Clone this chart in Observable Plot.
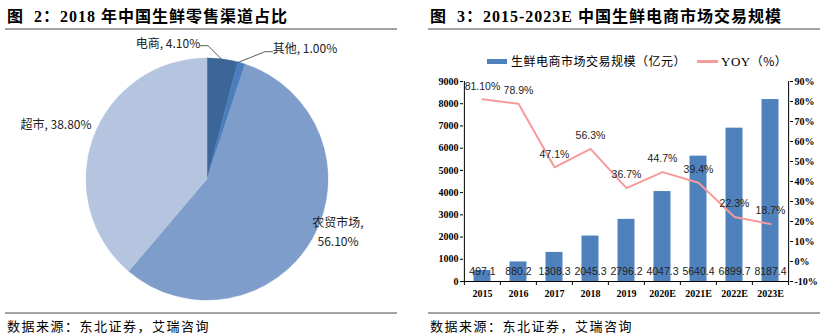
<!DOCTYPE html>
<html><head><meta charset="utf-8">
<script src="https://cdn.jsdelivr.net/npm/d3@7"></script>
<script src="https://cdn.jsdelivr.net/npm/@observablehq/plot@0.6"></script>
<style>
body{margin:0;background:#fff;}
#page{position:relative;width:823px;height:336px;overflow:hidden;background:#fff;}
.abs{position:absolute;white-space:nowrap;}
.title{font-family:"Liberation Serif","Noto Sans CJK SC",serif;font-weight:bold;font-size:16px;letter-spacing:1px;color:#000;line-height:20px;}
.foot{font-family:"Noto Sans CJK SC",sans-serif;font-size:13px;letter-spacing:1.5px;color:#000;line-height:16px;}
.rule{position:absolute;height:2px;background:#a3a3a3;}
.leg{font-family:"Noto Sans CJK SC",sans-serif;font-size:12px;letter-spacing:0.5px;color:#000;line-height:16px;}
</style></head>
<body><div id="page">
<div class="abs title" style="left:7px;top:7px;">图&nbsp;&nbsp;2：2018 年中国生鲜零售渠道占比</div>
<div class="rule" style="left:5px;top:28px;width:392px;"></div>
<div class="rule" style="left:5px;top:312px;width:392px;"></div>
<div class="abs foot" style="left:7px;top:318px;">数据来源：东北证券，艾瑞咨询</div>

<div class="abs title" style="left:430px;top:7px;">图&nbsp;&nbsp;3：2015-2023E 中国生鲜电商市场交易规模</div>
<div class="rule" style="left:428px;top:28px;width:392px;"></div>
<div class="rule" style="left:428px;top:312px;width:392px;"></div>
<div class="abs foot" style="left:430px;top:318px;">数据来源：东北证券，艾瑞咨询</div>

<div class="abs" style="left:487px;top:59px;width:20px;height:5px;background:#4f81bd;"></div>
<div class="abs leg" style="left:511px;top:53px;">生鲜电商市场交易规模（亿元）</div>
<div class="abs" style="left:697px;top:60px;width:21px;height:3px;background:#f79a9a;"></div>
<div class="abs leg" style="left:721px;top:53px;"><span style="font-family:'Liberation Serif',serif;font-size:13px;">YOY</span>（%）</div>

<div id="pie" class="abs" style="left:0;top:30px;"></div>
<div id="bar" class="abs" style="left:420px;top:70px;"></div>
</div>
<script>
// ---- Pie data ----
const pieCats = ["电商", "其他", "农贸市场", "超市"];
const pieVals = [4.10, 1.00, 56.10, 38.80];
const pieLabels = ["电商, 4.10%", "其他, 1.00%", "农贸市场,\n56.10%", "超市, 38.80%"];
const pieColors = ["#3d6698", "#4a7ebd", "#7f9dca", "#b5c5df"];

// ---- Bar/line data ----
const years = ["2015","2016","2017","2018","2019","2020E","2021E","2022E","2023E"];
const gmv = [497.1, 880.2, 1308.3, 2045.3, 2796.2, 4047.3, 5640.4, 6899.7, 8187.4];
const gmvLabels = ["497.1","880.2","1308.3","2045.3","2796.2","4047.3","5640.4","6899.7","8187.4"];
const yoy = [81.1, 78.9, 47.1, 56.3, 36.7, 44.7, 39.4, 22.3, 18.7];
const yoyLabels = ["81.10%","78.9%","47.1%","56.3%","36.7%","44.7%","39.4%","22.3%","18.7%"];
const leftTicks = [0,1000,2000,3000,4000,5000,6000,7000,8000,9000];
const rightTicks = [-10,0,10,20,30,40,50,60,70,80,90];

// ---- Pie chart ----
const pieData = pieCats.map((c,i)=>({cat:c, v:pieVals[i], label:pieLabels[i]}));
// layout (pixel offsets from pie centre) for labels and leader lines
const pieLayout = {cx:207, cy:149, r:121,
  labels:[[-39,-135],[98,-130],[131,44],[-151,-54]],
  leaders:[[[-7,-133.3],[1,-133.3],[14.7,-119.7]], [[66,-127.3],[58,-127.3],[30.5,-116.3]], null, null]};

const pieMark = (index, scales, values, dims) => {
  const color = d3.scaleOrdinal(pieCats, pieColors);
  const g = d3.create("svg:g").attr("transform", `translate(${pieLayout.cx},${pieLayout.cy})`);
  const arcs = d3.pie().sort(null).value(d=>d.v)(pieData);
  const arc = d3.arc().innerRadius(0).outerRadius(pieLayout.r);
  g.selectAll("path.s").data(arcs).join("path").attr("class","s")
    .attr("d", arc).attr("fill", d=>color(d.data.cat)).attr("stroke", d=>color(d.data.cat)).attr("stroke-width",0.5);
  pieData.forEach((d,i)=>{
    const L = pieLayout.leaders[i];
    if (L) g.append("polyline").attr("points", L.map(p=>p.join(",")).join(" "))
      .attr("fill","none").attr("stroke","#333").attr("stroke-width",0.8);
    const [lx,ly] = pieLayout.labels[i];
    const lines = d.label.split("\n");
    const t = g.append("text").attr("text-anchor","middle")
      .attr("font-family","'Noto Sans CJK SC', sans-serif").attr("font-size",12).attr("fill","#222");
    lines.forEach((s,k)=>t.append("tspan").attr("x",lx).attr("y",ly + k*19).attr("dy","0.35em").text(s));
  });
  return g.node();
};

document.getElementById("pie").append(Plot.plot({
  width: 410, height: 280, margin: 0, axis: null,
  style: {background: "transparent", overflow: "visible"},
  marks: [pieMark]
}));

// ---- Bar + line chart ----
const W = 403, H = 240, ML = 43, MR = 34, MT = 11, MB = 29;
const step = (W - ML - MR) / years.length;
const rows = years.map((y,i)=>({year:y, gmv:gmv[i], gl:gmvLabels[i], yoy:yoy[i], yl:yoyLabels[i], yy:(yoy[i]+10)*90}));
const font = "'Liberation Serif', 'Times New Roman', serif";
const edges = [...years.map(y=>({year:y, dx:-step/2})), {year: years[years.length-1], dx: step/2}];

document.getElementById("bar").append(Plot.plot({
  width: W, height: H, marginLeft: ML, marginRight: MR, marginTop: MT, marginBottom: MB,
  style: {background: "transparent", overflow: "visible"},
  x: {domain: years, padding: 0, label: null},
  y: {domain: [0, 9000], label: null},
  marks: [
    Plot.barY(rows, {x:"year", y:"gmv", fill:"#4f81bd", insetLeft:9.5, insetRight:9.5}),
    Plot.lineY(rows, {x:"year", y:"yy", stroke:"#f79a9a", strokeWidth:2}),
    Plot.text(rows, {x:"year", y:0, text:"gl", dy:-10, fontSize:10.5, fill:"#222", fontFamily:"'Liberation Sans', sans-serif"}),
    Plot.text(rows, {x:"year", y:"yy", text:"yl", dy:-13, fontSize:10.5, fill:"#222", fontFamily:"'Liberation Sans', sans-serif"}),
    Plot.ruleY([0], {stroke:"#000", strokeWidth:1}),
    Plot.ruleX([edges[0]], {x:"year", dx:-step/2, y1:0, y2:9000, stroke:"#000"}),
    Plot.ruleX([edges[edges.length-1]], {x:"year", dx:step/2, y1:0, y2:9000, stroke:"#000"}),
    Plot.ruleX(edges.slice(0,-1), {x:"year", dx:-step/2, y1:0, y2:-180, stroke:"#000"}),
    Plot.ruleX(edges.slice(-1), {x:"year", dx:step/2, y1:0, y2:-180, stroke:"#000"}),
    Plot.axisX({tickSize:0, tickPadding:8, fontWeight:"bold", fontSize:10, fontFamily:font, fill:"#000", label:null}),
    Plot.axisY({ticks:leftTicks, tickSize:3, tickPadding:2, tickFormat:d3.format("d"), fontWeight:"bold", fontSize:10, fontFamily:font, fill:"#000", label:null}),
    Plot.axisY({anchor:"right", ticks:rightTicks.map(t=>(t+10)*90), tickSize:3, tickPadding:2,
      tickFormat: v => Math.round(v/90 - 10) + "%", fontWeight:"bold", fontSize:10, fontFamily:font, fill:"#000", label:null})
  ]
}));
</script>
</body></html>
